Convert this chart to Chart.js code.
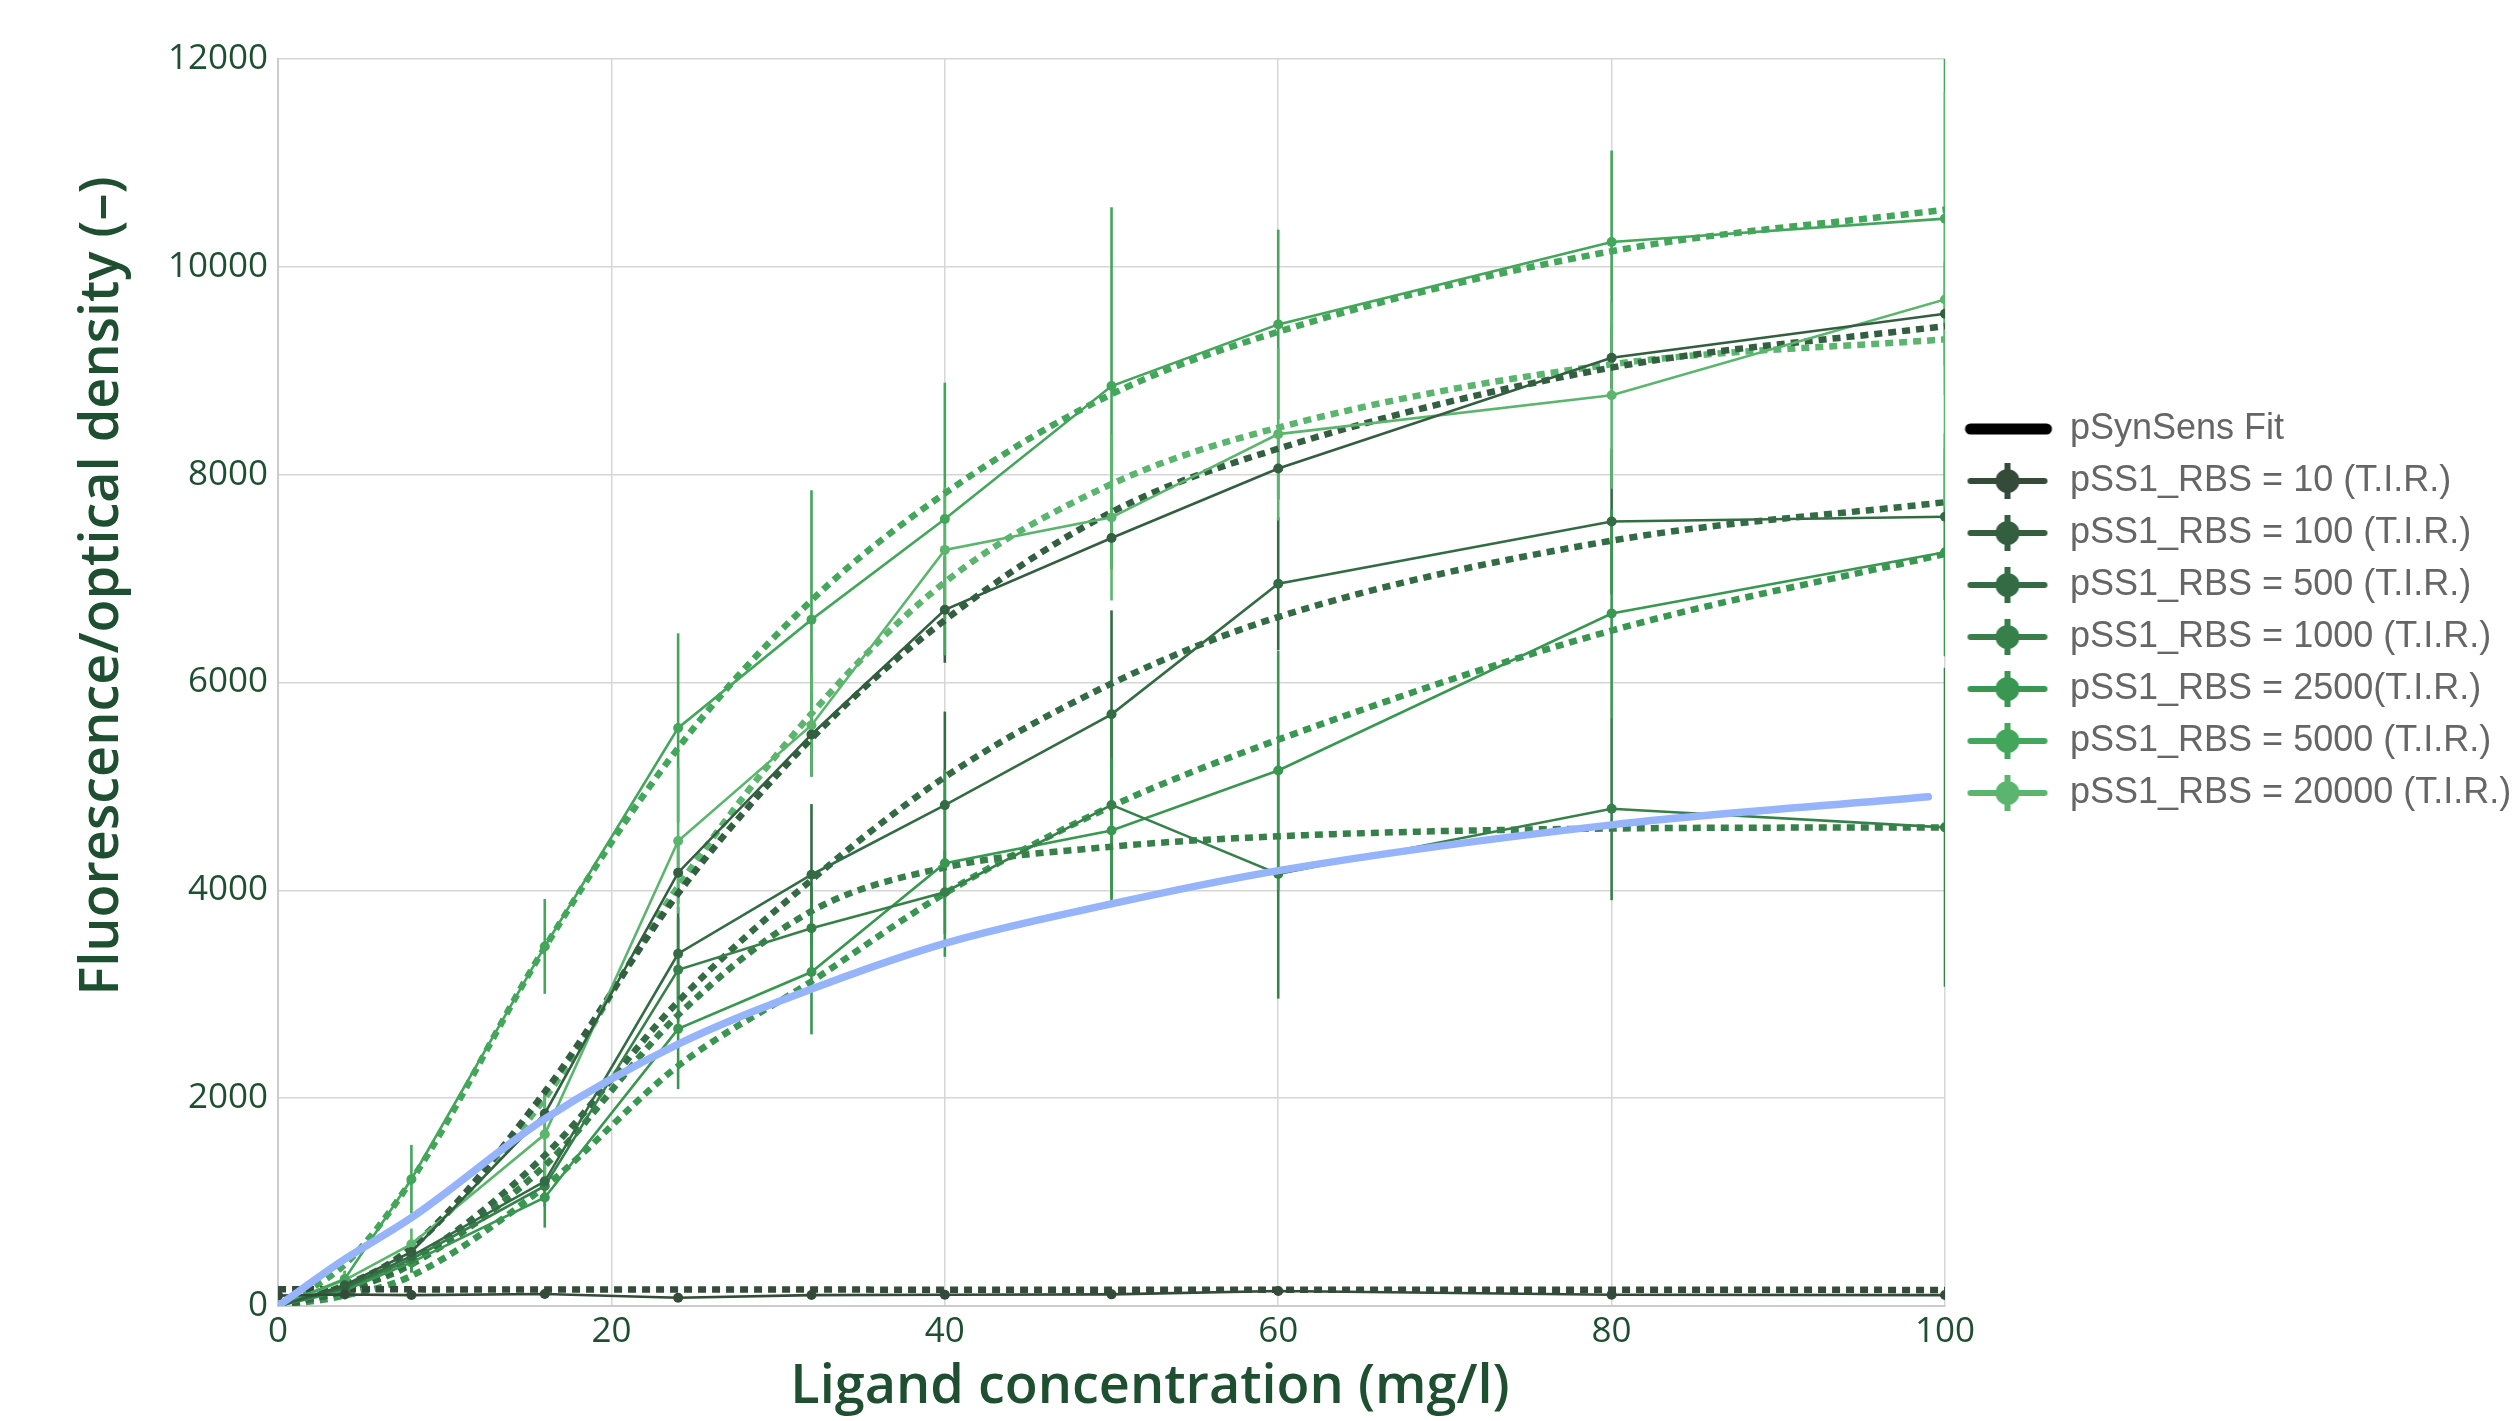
<!DOCTYPE html>
<html>
<head>
<meta charset="utf-8">
<title>pSS1 RBS dose response</title>
<script src="https://cdn.jsdelivr.net/npm/chart.js@4.4.1/dist/chart.umd.min.js"></script>
<style>
  html, body { margin: 0; padding: 0; background: #ffffff; }
  #chart { display: block; }
</style>
</head>
<body>
<canvas id="chart" width="2516" height="1421"></canvas>
<script>
// ligand concentrations (mg/l)
var conc = [0, 4, 8, 16, 24, 32, 40, 50, 60, 80, 100];

// measured fluorescence/OD, error bars and fitted curves per RBS strength
var rbs10 = [100, 110, 105, 115, 80, 105, 108, 112, 145, 108, 105];
var rbs10Err = [0, 15, 15, 15, 15, 15, 15, 15, 15, 15, 15];
var rbs10Fit = [160, 160, 160, 159, 158, 158, 157, 157, 157, 156, 155];

var rbs100 = [0, 200, 520, 1850, 4170, 5500, 6700, 7390, 8060, 9125, 9548];
var rbs100Err = [0, 50, 100, 250, 300, 400, 510, 300, 300, 300, 500];
var rbs100Fit = [0, 200, 560, 2060, 3970, 5460, 6600, 7640, 8250, 9030, 9430];

var rbs500 = [0, 180, 480, 1200, 3390, 4150, 4820, 5694, 6950, 7550, 7595];
var rbs500Err = [0, 60, 120, 200, 450, 680, 900, 1000, 640, 700, 800];
var rbs500Fit = [0, 150, 430, 1450, 2930, 4100, 5090, 5990, 6630, 7365, 7735];

var rbs1000 = [0, 170, 450, 1155, 3236, 3636, 3982, 4822, 4158, 4785, 4606];
var rbs1000Err = [0, 60, 120, 200, 500, 400, 400, 900, 1200, 880, 1535];
var rbs1000Fit = [0, 150, 400, 1350, 2800, 3800, 4220, 4420, 4520, 4595, 4606];

var rbs2500 = [0, 150, 420, 1044, 2667, 3214, 4260, 4575, 5153, 6664, 7253];
var rbs2500Err = [0, 50, 100, 290, 580, 600, 900, 700, 1150, 1000, 1000];
var rbs2500Fit = [0, 100, 290, 1150, 2310, 3124, 3970, 4810, 5450, 6500, 7237];

var rbs5000 = [0, 260, 1220, 3460, 5563, 6605, 7573, 8853, 9446, 10239, 10464];
var rbs5000Err = [0, 80, 330, 456, 910, 1245, 1312, 1720, 912, 880, 1700];
var rbs5000Fit = [0, 400, 1210, 3450, 5370, 6790, 7820, 8774, 9375, 10150, 10550];

var rbs20000 = [0, 250, 595, 1652, 4475, 5589, 7276, 7589, 8390, 8764, 9686];
var rbs20000Err = [0, 80, 150, 430, 700, 500, 600, 800, 830, 900, 2000];
var rbs20000Fit = [0, 180, 570, 2000, 4036, 5700, 6965, 7910, 8453, 9062, 9302];

// pSynSens reference fit
var synFitX = [0, 4, 8, 16, 24, 32, 40, 50, 60, 80, 99];
var synFitY = [0, 450, 850, 1800, 2520, 3050, 3490, 3870, 4190, 4630, 4900];

var seriesNames = ['pSS1_RBS = 10 (T.I.R.)', 'pSS1_RBS = 100 (T.I.R.)', 'pSS1_RBS = 500 (T.I.R.)',
  'pSS1_RBS = 1000 (T.I.R.)', 'pSS1_RBS = 2500(T.I.R.)', 'pSS1_RBS = 5000 (T.I.R.)', 'pSS1_RBS = 20000 (T.I.R.)'];
var seriesValues = [rbs10, rbs100, rbs500, rbs1000, rbs2500, rbs5000, rbs20000];
var seriesErrors = [rbs10Err, rbs100Err, rbs500Err, rbs1000Err, rbs2500Err, rbs5000Err, rbs20000Err];
var seriesFits = [rbs10Fit, rbs100Fit, rbs500Fit, rbs1000Fit, rbs2500Fit, rbs5000Fit, rbs20000Fit];
var seriesColors = ['#334b38', '#335e40', '#336c44', '#37804a', '#399751', '#43a65b', '#5bb56e'];
var synFitColor = '#96b4fb';

var axisColor = '#1e4f30';
var xTitle = 'Ligand concentration (mg/l)';
var yTitle = 'Fluorescence/optical density (\u2013)';

function toPoints(xs, ys) {
  return xs.map(function(x, i) { return {x: x, y: ys[i]}; });
}

// legend symbols: line + marker + error bar, or thick line for the fit
function legendSymbol(color, isFit) {
  var c = document.createElement('canvas');
  c.width = 96; c.height = 40;
  var g = c.getContext('2d');
  g.strokeStyle = color; g.fillStyle = color;
  if (isFit) {
    g.lineWidth = 11; g.lineCap = 'round';
    g.beginPath(); g.moveTo(12, 20); g.lineTo(88, 20); g.stroke();
    return c;
  }
  g.lineWidth = 6; g.lineCap = 'round';
  g.beginPath(); g.moveTo(12, 20); g.lineTo(86, 20); g.stroke();
  g.lineCap = 'butt';
  g.beginPath(); g.moveTo(49, 2); g.lineTo(49, 38); g.stroke();
  g.beginPath(); g.arc(49, 20, 12, 0, Math.PI * 2); g.fill();
  return c;
}

var datasets = [];
datasets.push({
  label: 'pSynSens Fit',
  data: toPoints(synFitX, synFitY),
  borderColor: synFitColor,
  borderWidth: 7.5,
  borderCapStyle: 'round',
  pointRadius: 0,
  cubicInterpolationMode: 'monotone',
  order: 0
});
seriesNames.forEach(function(name, i) {
  datasets.push({
    label: name,
    data: toPoints(conc, seriesValues[i]),
    errors: seriesErrors[i],
    borderColor: seriesColors[i],
    backgroundColor: seriesColors[i],
    borderWidth: 2.6,
    pointRadius: 5,
    pointBorderWidth: 0,
    pointBackgroundColor: seriesColors[i],
    tension: 0,
    order: 1
  });
});
seriesNames.forEach(function(name, i) {
  datasets.push({
    label: name + ' fit',
    data: toPoints(conc, seriesFits[i]),
    borderColor: seriesColors[i],
    borderWidth: 6.5,
    borderDash: [8, 6],
    pointRadius: 0,
    cubicInterpolationMode: 'monotone',
    order: 2
  });
});

var errorBars = {
  id: 'errorBars',
  beforeDatasetsDraw: function(chart) {
    var ctx = chart.ctx, area = chart.chartArea, yScale = chart.scales.y;
    ctx.save();
    ctx.beginPath();
    ctx.rect(area.left, area.top, area.right - area.left, area.bottom - area.top);
    ctx.clip();
    chart.data.datasets.forEach(function(ds, i) {
      if (!ds.errors) return;
      var meta = chart.getDatasetMeta(i);
      ctx.strokeStyle = ds.borderColor;
      ctx.lineWidth = 2.6;
      meta.data.forEach(function(pt, j) {
        var e = ds.errors[j];
        if (!e) return;
        var v = ds.data[j].y;
        ctx.beginPath();
        ctx.moveTo(pt.x, yScale.getPixelForValue(v - e));
        ctx.lineTo(pt.x, yScale.getPixelForValue(v + e));
        ctx.stroke();
      });
    });
    ctx.restore();
  }
};

var axisTitles = {
  id: 'axisTitles',
  afterDraw: function(chart) {
    var ctx = chart.ctx;
    ctx.save();
    ctx.fillStyle = axisColor;
    ctx.font = '600 54px "Open Sans"';
    ctx.textAlign = 'center';
    ctx.textBaseline = 'alphabetic';
    ctx.fillText(xTitle, 1150, 1403);
    ctx.translate(118, 586);
    ctx.rotate(-Math.PI / 2);
    ctx.fillText(yTitle, 0, 0);
    ctx.restore();
  }
};

var tickFont = {family: 'Open Sans', size: 35};

new Chart(document.getElementById('chart').getContext('2d'), {
  type: 'line',
  data: {datasets: datasets},
  plugins: [errorBars, axisTitles],
  options: {
    responsive: false,
    animation: false,
    layout: {padding: {left: 158, top: 59, right: 0, bottom: 63}},
    plugins: {
      tooltip: {enabled: false},
      legend: {
        position: 'right',
        align: 'start',
        maxWidth: 571,
        title: {display: true, text: ' ', font: {size: 10}, padding: {top: 324, bottom: 0}},
        labels: {
          usePointStyle: true,
          pointStyleWidth: 91,
          padding: 16,
          color: '#161616',
          font: {family: 'Liberation Sans', size: 36},
          generateLabels: function(chart) {
            var items = [{
              text: 'pSynSens Fit',
              pointStyle: legendSymbol('#000000', true),
              fillStyle: '#000000', strokeStyle: '#000000', lineWidth: 0,
              hidden: false, datasetIndex: 0
            }];
            seriesNames.forEach(function(name, i) {
              items.push({
                text: name,
                pointStyle: legendSymbol(seriesColors[i], false),
                fillStyle: seriesColors[i], strokeStyle: seriesColors[i], lineWidth: 0,
                hidden: false, datasetIndex: i + 1
              });
            });
            return items;
          }
        }
      }
    },
    scales: {
      x: {
        type: 'linear',
        min: 0,
        max: 100,
        ticks: {stepSize: 20, padding: 5, color: axisColor, font: tickFont},
        grid: {color: '#d6d6d6', lineWidth: 1.5, drawTicks: false},
        border: {color: '#cccccc', width: 2}
      },
      y: {
        min: 0,
        max: 12000,
        ticks: {
          stepSize: 2000, padding: 10, color: axisColor, font: tickFont,
          callback: function(v) { return String(v); }
        },
        grid: {color: '#d6d6d6', lineWidth: 1.5, drawTicks: false},
        border: {color: '#cccccc', width: 2}
      }
    }
  }
});
</script>
</body>
</html>
